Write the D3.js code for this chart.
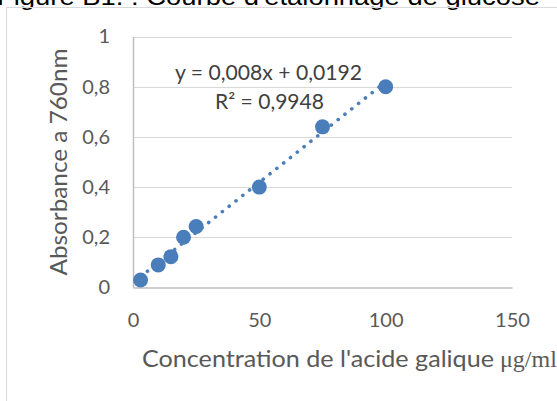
<!DOCTYPE html>
<html><head><meta charset="utf-8">
<script src="https://cdn.jsdelivr.net/npm/d3@7"></script>
<style>body{margin:0;background:#fff;overflow:hidden}</style>
</head><body>
<svg id="c" width="557" height="401"></svg>
<script>
const concentrations = [3, 10, 15, 20, 25, 50, 75, 100];
const absorbances = [0.03, 0.09, 0.123, 0.2, 0.243, 0.4, 0.64, 0.8];
const xTicks = [0, 50, 100, 150];
const yTicks = [0, 0.2, 0.4, 0.6, 0.8, 1];
const trendSlope = 0.008, trendIntercept = 0.0192;
const equationLabel = "y = 0,008x + 0,0192";
const r2Label = "R² = 0,9948";
const titleText = "Figure B1. : Courbe d'étalonnage de glucose";

const svg = d3.select("#c");
const x = d3.scaleLinear().domain([0, 150]).range([133, 512]);
const y = d3.scaleLinear().domain([0, 1]).range([287.5, 36.5]);
const fmt = d => String(d).replace(".", ",");
const font = "Lato, 'Open Sans', sans-serif";

// title (cut off at top)
svg.append("text").attr("x", -3).attr("y", 4.5).attr("font-family", "'Liberation Sans', Arial, sans-serif")
  .attr("font-size", 24).attr("fill", "#000").attr("textLength", 543).attr("lengthAdjust", "spacingAndGlyphs")
  .text(titleText);

// chart frame
svg.append("rect").attr("x", 6.5).attr("y", 7.5).attr("width", 600).attr("height", 450)
  .attr("fill", "none").attr("stroke", "#d9d9d9").attr("stroke-width", 1);

// gridlines
svg.append("g").selectAll("line").data(yTicks.filter(d => d > 0)).join("line")
  .attr("x1", x(0)).attr("x2", x(150)).attr("y1", d => Math.round(y(d)) + 0.5).attr("y2", d => Math.round(y(d)) + 0.5)
  .attr("stroke", "#d9d9d9").attr("stroke-width", 1);

// axes
const yAxis = svg.append("g").attr("transform", `translate(${x(0)},0)`)
  .call(d3.axisLeft(y).tickValues(yTicks).tickFormat(fmt).tickSize(0).tickPadding(23));
const xAxis = svg.append("g").attr("transform", `translate(0,${y(0)})`)
  .call(d3.axisBottom(x).tickValues(xTicks).tickFormat(fmt).tickSize(0).tickPadding(25));
[xAxis, yAxis].forEach(a => {
  a.select(".domain").attr("stroke", "#bfbfbf").attr("stroke-width", 1.5);
  a.selectAll("text").attr("font-family", font).attr("font-size", 20).attr("fill", "#595959");
});

// trendline
const x0 = d3.min(concentrations), x1 = d3.max(concentrations);
svg.append("line")
  .attr("x1", x(x0)).attr("y1", y(trendSlope * x0 + trendIntercept))
  .attr("x2", x(x1)).attr("y2", y(trendSlope * x1 + trendIntercept))
  .attr("stroke", "#4a7ebb").attr("stroke-width", 3.6).attr("stroke-linecap", "round")
  .attr("stroke-dasharray", "0.1 8.6");

// points
svg.append("g").selectAll("circle").data(concentrations).join("circle")
  .attr("cx", d => x(d)).attr("cy", (d, i) => y(absorbances[i])).attr("r", 7.5)
  .attr("fill", "#4a7ebb");

// equation
svg.append("text").attr("x", 175).attr("y", 80)
  .attr("font-family", font).attr("font-size", 21).attr("fill", "#404040")
  .attr("textLength", 187).attr("lengthAdjust", "spacingAndGlyphs").text(equationLabel);
svg.append("text").attr("x", 215).attr("y", 109)
  .attr("font-family", font).attr("font-size", 21).attr("fill", "#404040")
  .attr("textLength", 109).attr("lengthAdjust", "spacingAndGlyphs").text(r2Label);

// axis titles
svg.append("text").attr("transform", "translate(67,162) rotate(-90)").attr("text-anchor", "middle")
  .attr("font-family", font).attr("font-size", 23).attr("fill", "#595959")
  .attr("textLength", 227).attr("lengthAdjust", "spacingAndGlyphs").text("Absorbance a 760nm");
svg.append("text").attr("x", 142).attr("y", 367)
  .attr("font-family", font).attr("font-size", 23).attr("fill", "#595959")
  .attr("textLength", 352).attr("lengthAdjust", "spacingAndGlyphs").text("Concentration de l'acide galique");
svg.append("text").attr("x", 500).attr("y", 367)
  .attr("font-family", "'Liberation Serif', 'Times New Roman', serif").attr("font-size", 24).attr("fill", "#595959")
  .text("μg/ml");
</script>
</body></html>
